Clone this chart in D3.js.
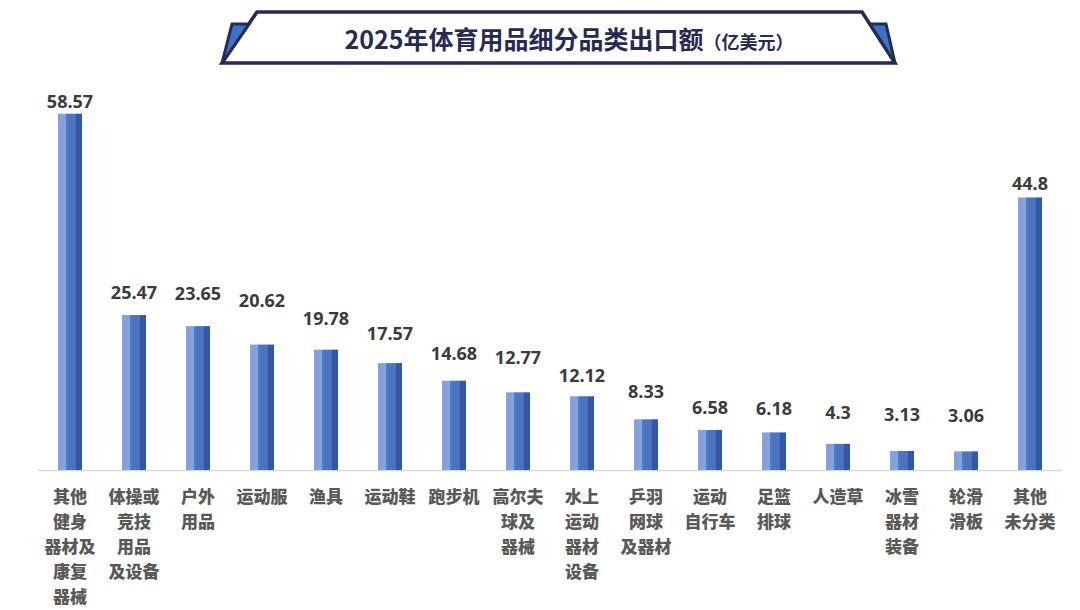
<!DOCTYPE html>
<html>
<head>
<meta charset="utf-8">
<script src="https://cdn.jsdelivr.net/npm/d3@7"></script>
<style>
  html, body { margin: 0; padding: 0; background: #ffffff; }
  svg { display: block; }
</style>
</head>
<body>
<svg id="chart" width="1080" height="610"></svg>
<script>
// ---- data ----
const titleMain = "2025年体育用品细分品类出口额";
const titleUnit = "（亿美元）";
const categories = [
  ["其他", "健身", "器材及", "康复", "器械"],
  ["体操或", "竞技", "用品", "及设备"],
  ["户外", "用品"],
  ["运动服"],
  ["渔具"],
  ["运动鞋"],
  ["跑步机"],
  ["高尔夫", "球及", "器械"],
  ["水上", "运动", "器材", "设备"],
  ["乒羽", "网球", "及器材"],
  ["运动", "自行车"],
  ["足篮", "排球"],
  ["人造草"],
  ["冰雪", "器材", "装备"],
  ["轮滑", "滑板"],
  ["其他", "未分类"]
];
const values = [58.57, 25.47, 23.65, 20.62, 19.78, 17.57, 14.68, 12.77, 12.12, 8.33, 6.58, 6.18, 4.3, 3.13, 3.06, 44.8];
const valueLabels = ["58.57", "25.47", "23.65", "20.62", "19.78", "17.57", "14.68", "12.77", "12.12", "8.33", "6.58", "6.18", "4.3", "3.13", "3.06", "44.8"];

// ---- layout (label gap above each bar, px) ----
const labelGap = [12, 23, 33, 44, 31, 30, 27, 35, 21, 28, 22, 24, 31, 36, 36, 14];

const svg = d3.select("#chart");

const x = d3.scaleBand().domain(d3.range(values.length)).range([38, 1062]).paddingInner(0.625).paddingOuter(0.3125);
const y = d3.scaleLinear().domain([0, 60]).range([470, 105]);

// ---- title frame ----
const navy = "#262a55";
const flapBlue = "#3b74c4";
const tg = svg.append("g");
tg.append("polygon")
  .attr("points", [[257,12],[862,12],[895,63],[222,63]].map(p => p.join(",")).join(" "))
  .attr("fill", "#ffffff").attr("stroke", navy).attr("stroke-width", 3.5).attr("stroke-linejoin", "miter");
tg.append("polygon")
  .attr("points", [[232,24],[249,24],[222,63]].map(p => p.join(",")).join(" "))
  .attr("fill", flapBlue).attr("stroke", navy).attr("stroke-width", 3).attr("stroke-linejoin", "miter");
tg.append("polygon")
  .attr("points", [[870,24],[886,24],[895,63]].map(p => p.join(",")).join(" "))
  .attr("fill", flapBlue).attr("stroke", navy).attr("stroke-width", 3).attr("stroke-linejoin", "miter");
const tt = tg.append("text")
  .attr("x", 569).attr("y", 48.5)
  .attr("text-anchor", "middle")
  .attr("font-family", "'Noto Sans CJK SC', 'Noto Sans', sans-serif")
  .attr("font-weight", 700)
  .attr("fill", navy);
tt.append("tspan").attr("font-size", 25).text(titleMain);
tt.append("tspan").attr("font-size", 18).text(titleUnit);

// ---- baseline ----
svg.append("line")
  .attr("x1", 38).attr("x2", 1062)
  .attr("y1", y(0) + 0.5).attr("y2", y(0) + 0.5)
  .attr("stroke", "#d9d9d9").attr("stroke-width", 1.5);

// ---- bars (three-tone stripes) ----
const stripeColors = ["#84a2d8", "#4b74c2", "#2f59aa"];
const stripeFrac = [0, 0.34, 0.72, 1];
const bars = svg.append("g").selectAll("g").data(values).join("g");
stripeColors.forEach((c, k) => {
  bars.append("rect")
    .attr("x", (d, i) => x(i) + x.bandwidth() * stripeFrac[k])
    .attr("width", x.bandwidth() * (stripeFrac[k + 1] - stripeFrac[k]) + (k < 2 ? 0.3 : 0))
    .attr("y", d => y(d))
    .attr("height", d => y(0) - y(d))
    .attr("fill", c);
});

// ---- value labels ----
svg.append("g").selectAll("text").data(values).join("text")
  .attr("x", (d, i) => x(i) + x.bandwidth() / 2)
  .attr("y", (d, i) => y(d) - labelGap[i])
  .attr("dy", "0.36em")
  .attr("text-anchor", "middle")
  .attr("font-family", "'Open Sans', 'Noto Sans', sans-serif")
  .attr("font-weight", 700)
  .attr("font-size", 18)
  .attr("fill", "#3b3b3b")
  .text((d, i) => valueLabels[i]);

// ---- category labels ----
const cg = svg.append("g");
categories.forEach((lines, i) => {
  const t = cg.append("text")
    .attr("text-anchor", "middle")
    .attr("font-family", "'Noto Sans CJK SC', sans-serif")
    .attr("font-weight", 900)
    .attr("font-size", 17)
    .attr("fill", "#595959");
  lines.forEach((ln, j) => {
    t.append("tspan")
      .attr("x", x(i) + x.bandwidth() / 2)
      .attr("y", 497 + j * 25)
      .attr("dy", "0.36em")
      .text(ln);
  });
});
</script>
</body>
</html>
